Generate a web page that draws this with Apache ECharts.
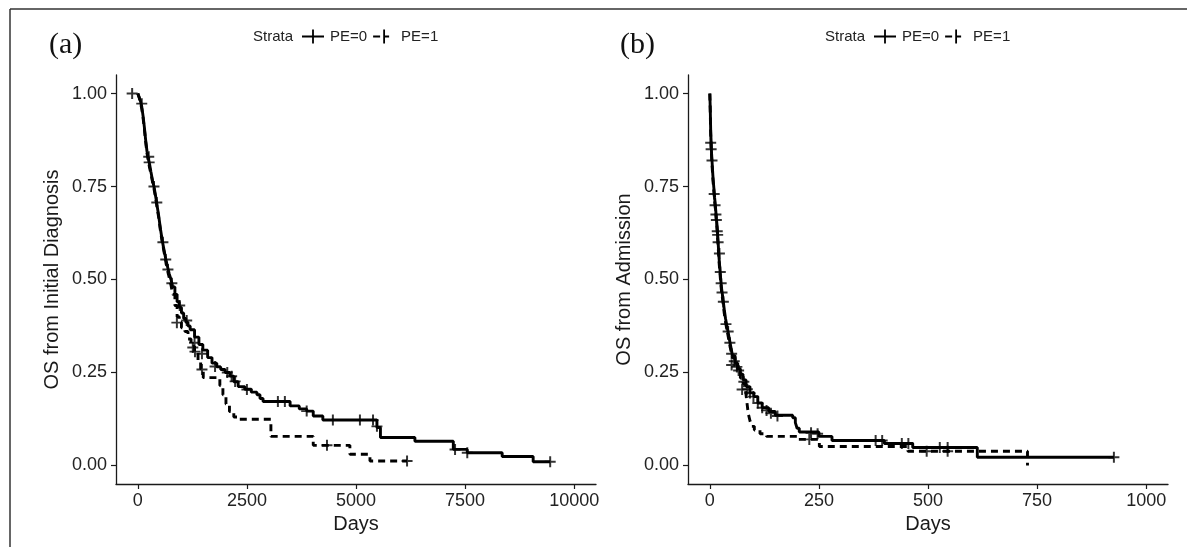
<!DOCTYPE html>
<html>
<head>
<meta charset="utf-8">
<script src="https://cdn.jsdelivr.net/npm/echarts@6/dist/echarts.min.js"></script>
<style>
html,body{margin:0;padding:0;background:#fff;}
#chart{width:1187px;height:547px;}
</style>
</head>
<body>
<div id="chart"></div>
<script>
// ---------- Data ----------
const panelLabels = ['(a)', '(b)'];
const strataNames = ['PE=0', 'PE=1'];
const yTicks = [0, 0.25, 0.5, 0.75, 1];
const xTicksA = [0, 2500, 5000, 7500, 10000];
const xTicksB = [0, 250, 500, 750, 1000];
const yTitleA = 'OS from Initial Diagnosis';
const yTitleB = 'OS from Admission';
const xTitle = 'Days';

// Panel (a): OS from initial diagnosis
const daysA0 = [0,30,60,90,120,150,180,210,240,270,300,340,370,400,440,480,520,560,600,640,680,720,760,800,850,900,950,1000,1050,1100,1150,1200,1300,1400,1490,1600,1700,1810,1900,2000,2110,2200,2300,2450,2600,2730,2800,2870,3490,3700,3870,4020,4240,5480,5560,6350,7230,7550,8350,9060,9450];
const survA0 = [1,0.99,0.98,0.965,0.94,0.91,0.875,0.845,0.825,0.81,0.79,0.765,0.75,0.73,0.70,0.67,0.635,0.605,0.58,0.555,0.535,0.515,0.50,0.48,0.46,0.44,0.425,0.41,0.395,0.385,0.375,0.365,0.345,0.325,0.31,0.29,0.275,0.265,0.258,0.25,0.24,0.225,0.212,0.205,0.197,0.19,0.18,0.172,0.16,0.152,0.146,0.133,0.122,0.102,0.075,0.065,0.043,0.034,0.024,0.01,0.01];
const daysA1 = [0,30,60,90,120,150,180,210,240,270,300,340,370,400,440,480,520,560,600,640,680,720,760,800,850,900,950,1000,1080,1150,1220,1300,1380,1440,1500,1880,1950,2020,2100,2200,2300,3050,4020,4860,5320,6170];
const survA1 = [1,0.99,0.975,0.96,0.935,0.905,0.87,0.84,0.82,0.80,0.785,0.76,0.745,0.725,0.695,0.665,0.63,0.60,0.575,0.55,0.525,0.505,0.485,0.46,0.43,0.40,0.385,0.37,0.36,0.34,0.32,0.305,0.28,0.26,0.236,0.215,0.19,0.165,0.145,0.13,0.124,0.078,0.054,0.03,0.012,0.012];
const censDaysA0 = [-130,90,250,260,370,435,575,640,690,780,960,1120,1300,1470,1770,2050,2150,2230,2500,3210,3370,3870,4470,5090,5390,5480,7270,7550,9450];
const censSurvA0 = [1.0,0.973,0.83,0.815,0.75,0.707,0.60,0.554,0.527,0.49,0.43,0.39,0.33,0.30,0.266,0.25,0.24,0.226,0.204,0.172,0.172,0.146,0.122,0.122,0.122,0.105,0.043,0.034,0.01];
const censDaysA1 = [895,1260,1310,1470,4335,6170];
const censSurvA1 = [0.384,0.317,0.306,0.258,0.054,0.012];

// Panel (b): OS from admission
const daysB0 = [0,1,2,3,4,5,7,9,11,13,15,17,19,21,23,25,27,30,33,36,40,44,48,52,58,64,70,76,83,92,101,110,120,135,150,190,196,200,205,250,280,400,465,613,926];
const survB0 = [1,0.96,0.90,0.87,0.84,0.82,0.78,0.75,0.72,0.695,0.665,0.64,0.60,0.56,0.53,0.50,0.475,0.45,0.42,0.395,0.37,0.345,0.32,0.295,0.275,0.26,0.245,0.23,0.212,0.195,0.185,0.168,0.155,0.145,0.135,0.128,0.115,0.10,0.09,0.078,0.067,0.059,0.048,0.022,0.022];
const daysB1 = [0,1,2,3,4,5,7,9,11,13,15,17,19,21,23,25,27,30,33,36,40,44,48,52,58,64,70,76,82,85,88,92,96,102,115,130,200,251,454,728];
const survB1 = [1,0.95,0.89,0.86,0.83,0.81,0.77,0.74,0.71,0.685,0.655,0.625,0.59,0.55,0.52,0.49,0.465,0.44,0.41,0.385,0.36,0.335,0.31,0.29,0.27,0.25,0.235,0.22,0.20,0.17,0.14,0.12,0.105,0.095,0.085,0.078,0.07,0.051,0.038,0.0];
const censDaysB0 = [2,3,5,14,15,17,18,19,22,24,26,28,31,37,42,46,50,56,62,66,78,86,92,100,110,120,130,140,155,232,247,380,395,440,455,527,545,926];
const censSurvB0 = [0.868,0.85,0.82,0.675,0.66,0.63,0.62,0.60,0.57,0.52,0.49,0.465,0.44,0.38,0.36,0.33,0.30,0.28,0.265,0.255,0.225,0.205,0.195,0.185,0.168,0.155,0.148,0.14,0.133,0.088,0.085,0.067,0.067,0.059,0.059,0.048,0.048,0.022];
const censDaysB1 = [10,12,50,74,228,497,545];
const censSurvB1 = [0.73,0.70,0.27,0.204,0.07,0.038,0.038];

// ---------- Build ----------
const zip = (xs, ys) => xs.map((x, i) => [x, ys[i]]);
const FONT = 'Liberation Sans, Arial, sans-serif';
const INK = '#1a1a1a';
const CROSS = 'path://M0,4.1H10V5.9H0Z M4.1,0H5.9V10H4.1Z';
const ICON_SOLID = 'path://M0,6.1H22V7.9H0Z M10.1,0H11.9V14H10.1Z';
const ICON_DASH = 'path://M0,6.1H7V7.9H0Z M10.1,0H11.9V14H10.1Z M11.9,6.1H16V7.9H11.9Z M21.9,0H22V0.1H21.9Z';

const grids = [
  {left: 116, right: 1187 - 596, top: 75, bottom: 547 - 484},
  {left: 688, right: 1187 - 1168, top: 75, bottom: 547 - 484}
];

function xAxisFor(gi, min, max, ticks) {
  return {
    gridIndex: gi, type: 'value', min: min, max: max,
    name: xTitle, nameLocation: 'middle', nameGap: 30,
    nameTextStyle: {fontFamily: FONT, fontSize: 20, color: INK},
    axisLine: {show: true, onZero: false, lineStyle: {color: INK, width: 1.3}},
    axisTick: {show: true, length: 5, customValues: ticks, lineStyle: {color: INK, width: 1.2}},
    axisLabel: {customValues: ticks, margin: 8, fontFamily: FONT, fontSize: 18, color: '#222',
      formatter: v => String(Math.round(v))},
    splitLine: {show: false}
  };
}
function yAxisFor(gi, title) {
  return {
    gridIndex: gi, type: 'value', min: -0.05, max: 1.05,
    name: title, nameLocation: 'middle', nameGap: 54, nameRotate: 90,
    nameTextStyle: {fontFamily: FONT, fontSize: 20, color: INK},
    axisLine: {show: true, onZero: false, lineStyle: {color: INK, width: 1.3}},
    axisTick: {show: true, length: 5, customValues: yTicks, lineStyle: {color: INK, width: 1.2}},
    axisLabel: {customValues: yTicks, margin: 9, fontFamily: FONT, fontSize: 18, color: '#222',
      formatter: v => Number(v).toFixed(2)},
    splitLine: {show: false}
  };
}

function curve(name, gi, data, dashed) {
  return {
    type: 'line', name: name, xAxisIndex: gi, yAxisIndex: gi,
    data: data, step: 'end', symbol: 'none', silent: true,
    color: '#000',
    lineStyle: {color: '#000', width: 2.9, type: dashed ? [7, 5] : 'solid'},
    z: 3
  };
}
function censors(name, gi, data) {
  return {
    type: 'scatter', name: name, xAxisIndex: gi, yAxisIndex: gi,
    data: data, symbol: CROSS, symbolSize: 11, silent: true,
    itemStyle: {color: '#000'}, z: 4
  };
}

function legendFor(left) {
  return {
    left: left, top: 24, orient: 'horizontal',
    itemWidth: 22, itemHeight: 14, itemGap: 6,
    textStyle: {fontFamily: FONT, fontSize: 15, color: '#222', padding: [0, 0, 0, 1]},
    selectedMode: false,
    data: [
      {name: strataNames[0], icon: ICON_SOLID, itemStyle: {color: '#000'}},
      {name: strataNames[1], icon: ICON_DASH, itemStyle: {color: '#000'}}
    ]
  };
}

const option = {
  backgroundColor: '#fff',
  animation: false,
  title: [
    {text: panelLabels[0], left: 44, top: 25, textStyle: {fontFamily: 'Liberation Serif, Times New Roman, serif', fontSize: 30, fontWeight: 'normal', color: '#111'}},
    {text: panelLabels[1], left: 615, top: 25, textStyle: {fontFamily: 'Liberation Serif, Times New Roman, serif', fontSize: 30, fontWeight: 'normal', color: '#111'}},
    {text: 'Strata', left: 248, top: 24, textStyle: {fontFamily: FONT, fontSize: 15, fontWeight: 'normal', color: '#222'}},
    {text: 'Strata', left: 820, top: 24, textStyle: {fontFamily: FONT, fontSize: 15, fontWeight: 'normal', color: '#222'}}
  ],
  legend: [legendFor(297), legendFor(869)],
  grid: grids,
  xAxis: [xAxisFor(0, -500, 10500, xTicksA), xAxisFor(1, -50, 1050, xTicksB)],
  yAxis: [yAxisFor(0, yTitleA), yAxisFor(1, yTitleB)],
  series: [
    curve(strataNames[0], 0, zip(daysA0, survA0), false),
    curve(strataNames[1], 0, zip(daysA1, survA1), true),
    censors('censA0', 0, zip(censDaysA0, censSurvA0)),
    censors('censA1', 0, zip(censDaysA1, censSurvA1)),
    curve(strataNames[0], 1, zip(daysB0, survB0), false),
    curve(strataNames[1], 1, zip(daysB1, survB1), true),
    censors('censB0', 1, zip(censDaysB0, censSurvB0)),
    censors('censB1', 1, zip(censDaysB1, censSurvB1))
  ],
  graphic: [
    {type: 'line', shape: {x1: 10, y1: 9, x2: 1187, y2: 9}, style: {stroke: '#333', lineWidth: 1.5}, silent: true},
    {type: 'line', shape: {x1: 10, y1: 9, x2: 10, y2: 547}, style: {stroke: '#333', lineWidth: 1.5}, silent: true}
  ]
};

const chart = echarts.init(document.getElementById('chart'), null, {renderer: 'canvas'});
chart.setOption(option);
</script>
</body>
</html>
